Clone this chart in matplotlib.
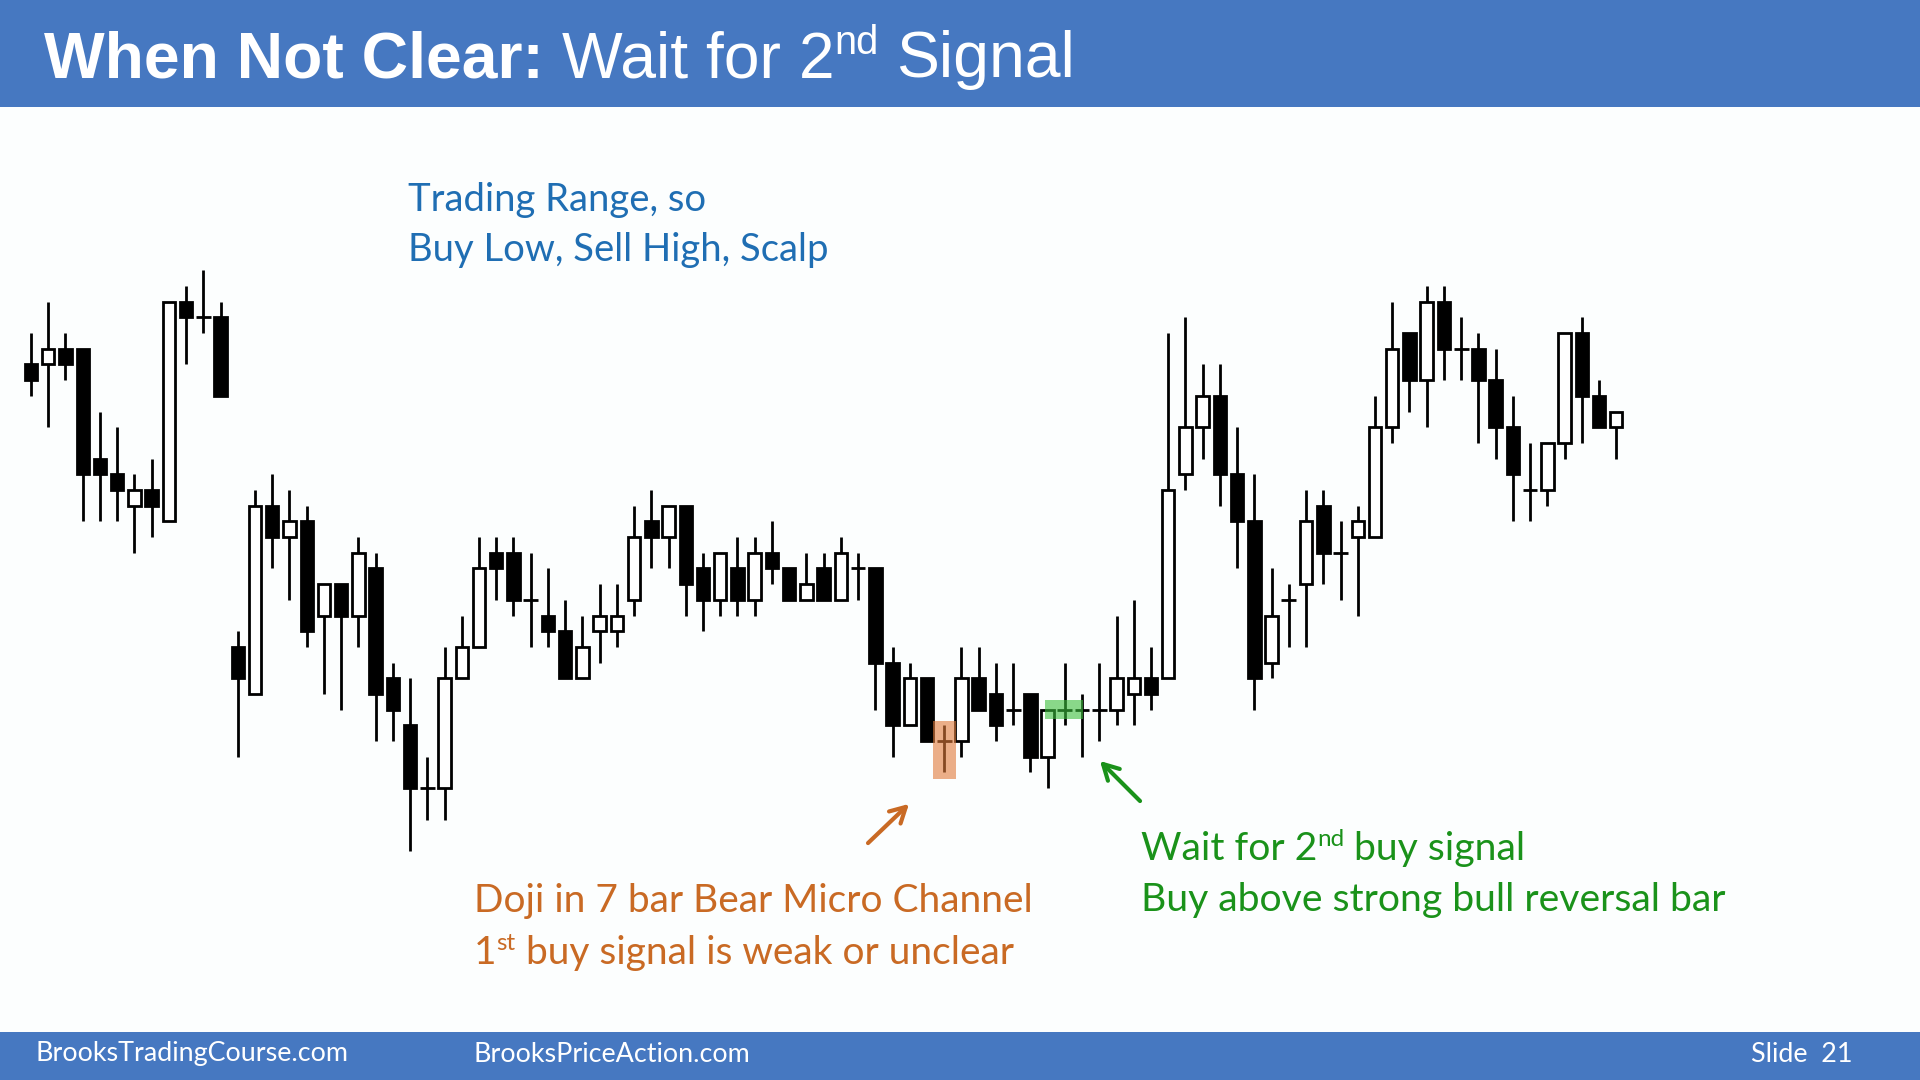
import matplotlib
matplotlib.use("Agg")
import matplotlib.pyplot as plt
from matplotlib.patches import Rectangle
import numpy as np

# OHLC of the 93 bars, in price ticks
opens = [34, 34, 35, 35, 28, 27, 25, 26, 24, 38, 37, 37, 16, 13, 25, 23, 24, 18, 20, 18,
         21, 14, 11, 7, 7, 14, 16, 22, 22, 19, 18, 17, 14, 17, 17, 19, 24, 23, 25, 21,
         19, 21, 19, 22, 21, 19, 21, 19, 21, 21, 15, 11, 14, 10, 10, 14, 13, 12, 13, 9,
         12, 12, 12, 12, 13, 14, 14, 27, 30, 32, 27, 24, 15, 19, 20, 25, 22, 23, 23, 30,
         36, 33, 38, 35, 35, 33, 30, 26, 26, 29, 36, 32, 30]
highs = [36, 38, 36, 35, 31, 30, 27, 28, 38, 39, 40, 38, 17, 26, 27, 26, 25, 20, 20, 23,
         22, 15, 14, 9, 16, 18, 23, 23, 23, 22, 21, 19, 18, 20, 20, 25, 26, 25, 25, 22,
         22, 23, 23, 24, 21, 22, 22, 23, 22, 21, 16, 15, 14, 11, 16, 16, 15, 15, 13, 12,
         15, 13, 15, 18, 19, 16, 36, 37, 34, 34, 30, 27, 21, 20, 26, 26, 24, 25, 32, 38,
         36, 39, 39, 37, 36, 35, 32, 29, 29, 36, 37, 33, 31]
lows = [32, 30, 33, 24, 24, 24, 22, 23, 24, 34, 36, 32, 9, 13, 21, 19, 16, 13, 12, 16,
        10, 10, 3, 5, 5, 14, 16, 19, 18, 16, 16, 14, 14, 15, 16, 18, 21, 21, 18, 17,
        18, 18, 18, 20, 19, 19, 19, 19, 19, 12, 9, 11, 10, 8, 9, 12, 10, 11, 8, 7,
        11, 9, 10, 11, 11, 12, 14, 26, 28, 25, 21, 12, 14, 16, 16, 20, 19, 18, 23, 29,
        31, 30, 33, 33, 29, 28, 24, 24, 25, 28, 29, 30, 28]
closes = [33, 35, 34, 27, 27, 26, 26, 25, 38, 37, 37, 32, 14, 25, 23, 24, 17, 20, 18, 22,
          13, 12, 7, 7, 14, 16, 21, 21, 19, 19, 17, 14, 16, 18, 18, 23, 23, 25, 20, 19,
          22, 19, 22, 21, 19, 20, 19, 22, 21, 15, 11, 14, 10, 10, 14, 12, 11, 12, 9, 12,
          12, 12, 12, 14, 14, 13, 26, 30, 32, 27, 24, 14, 18, 19, 24, 22, 22, 24, 30, 35,
          33, 38, 35, 35, 33, 30, 27, 26, 29, 36, 32, 30, 31]

doji_bar = 53          # first buy signal (orange)
second_signal = [59, 60, 61]  # green zone

title_bold = "When Not Clear:"
title_rest = "Wait for 2"
title_sup = "nd"
title_end = "Signal"
range_text = ["Trading Range, so", "Buy Low, Sell High, Scalp"]
footer_left = "BrooksTradingCourse.com"
footer_mid = "BrooksPriceAction.com"
footer_right = "Slide  21"

W, H = 1920, 1080
BG = "#FCFEFE"
BANNER = "#4678C1"
BLUE = "#1F6EB3"
ORANGE = "#C96A24"
GREEN = "#1A921A"

fig = plt.figure(figsize=(W / 100, H / 100), dpi=100, facecolor=BG)
ax = fig.add_axes([0, 0, 1, 1])
ax.set_xlim(-1.8, 109.63)
ax.set_ylim(-11.6, 57.23)
ax.axis("off")

o = np.array(opens, float)
h = np.array(highs, float)
l = np.array(lows, float)
c = np.array(closes, float)
x = np.arange(len(o))
up = c > o
dn = c < o
dj = c == o

lw = 2.0
ax.vlines(x, l, h, color="black", lw=lw, zorder=2)
ax.bar(x[up], (c - o)[up], bottom=o[up], width=0.72, facecolor="white",
       edgecolor="black", lw=lw, zorder=3)
ax.bar(x[dn], (o - c)[dn], bottom=c[dn], width=0.72, facecolor="black",
       edgecolor="black", lw=lw, zorder=3)
ax.hlines(o[dj], x[dj] - 0.43, x[dj] + 0.43, color="black", lw=lw, zorder=3)

# highlights over the signal bars
ax.add_patch(Rectangle((doji_bar - 0.68, l[doji_bar] - 0.4), 1.36,
                       h[doji_bar] - l[doji_bar] + 0.67,
                       facecolor="#E07A3A", alpha=0.6, lw=0, zorder=5))
g0, g1 = second_signal[0], second_signal[-1]
ax.add_patch(Rectangle((g0 - 0.15, c[g0 + 1] - 0.6), g1 - g0 + 0.21, 1.2,
                       facecolor="#3CC03C", alpha=0.6, lw=0, zorder=5))

# banners
fig.patches.append(Rectangle((0, 1 - 107 / H), 1, 107 / H, transform=fig.transFigure,
                             facecolor=BANNER, lw=0, zorder=1))
fig.patches.append(Rectangle((0, 0), 1, 48 / H, transform=fig.transFigure,
                             facecolor=BANNER, lw=0, zorder=1))

renderer = fig.canvas.get_renderer()


def text_width(s, **kw):
    a = fig.text(0, 0, "|" + s + "|", **kw)
    b = fig.text(0, 0, "||", **kw)
    w = a.get_window_extent(renderer).width - b.get_window_extent(renderer).width
    a.remove()
    b.remove()
    return w


def put_line(x_px, base_px, parts, color, family, size):
    for s, weight, sup in parts:
        fs = size * 0.62 if sup else size
        rise = size * 1.389 * 0.36 if sup else 0
        kw = dict(fontsize=fs, fontweight=weight, family=family)
        if s.strip():
            fig.text(x_px / W, (H - base_px + rise) / H, s, color=color,
                     va="baseline", ha="left", zorder=6, **kw)
        x_px += text_width(s, **kw)


put_line(44, 77, [(title_bold, "bold", False), (" ", "normal", False),
                  (title_rest, "normal", False), (title_sup, "normal", True),
                  (" ", "normal", False), (title_end, "normal", False)],
         "white", "Liberation Sans", 46.3)

put_line(408, 211, [(range_text[0], "normal", False)], BLUE, "Lato", 27.5)
put_line(408, 261, [(range_text[1], "normal", False)], BLUE, "Lato", 27.5)

put_line(474, 912, [("Doji in 7 bar Bear Micro Channel", "normal", False)],
         ORANGE, "Lato", 28)
put_line(474, 964, [("1", "normal", False), ("st", "normal", True),
                    (" buy signal is weak or unclear", "normal", False)],
         ORANGE, "Lato", 28)

put_line(1141, 860, [("Wait for 2", "normal", False), ("nd", "normal", True),
                     (" buy signal", "normal", False)], GREEN, "Lato", 28.2)
put_line(1141, 911, [("Buy above strong bull reversal bar", "normal", False)],
         GREEN, "Lato", 28.2)

ax.annotate("", xy=(911 / W, 1 - 802 / H), xytext=(866 / W, 1 - 845 / H),
            xycoords="figure fraction", textcoords="figure fraction",
            arrowprops=dict(arrowstyle="->,head_length=0.55,head_width=0.3",
                            color=ORANGE, lw=3, mutation_scale=20))
ax.annotate("", xy=(1098 / W, 1 - 759 / H), xytext=(1142 / W, 1 - 803 / H),
            xycoords="figure fraction", textcoords="figure fraction",
            arrowprops=dict(arrowstyle="->,head_length=0.55,head_width=0.3",
                            color=GREEN, lw=3, mutation_scale=20))

for txt, xp in [(footer_left, 35), (footer_mid, 474), (footer_right, 1751)]:
    fig.text(xp / W, 1 - 1054 / H, txt, color="white", family="Lato", fontsize=19.4,
             va="center", ha="left", zorder=6)

fig.savefig("out.png", dpi=100, facecolor=BG)
